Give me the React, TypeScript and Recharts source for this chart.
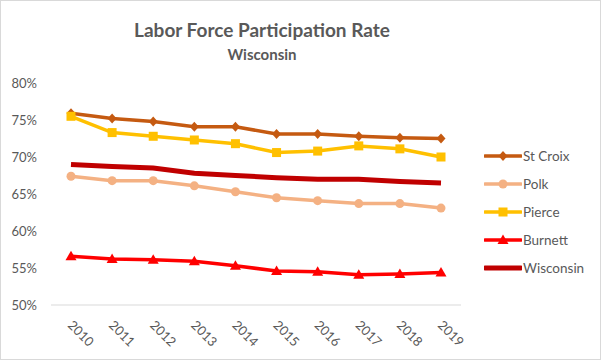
import { LineChart, Line, XAxis, YAxis } from "recharts";

const years = ["2010", "2011", "2012", "2013", "2014", "2015", "2016", "2017", "2018", "2019"];
const stCroix = [75.9, 75.2, 74.8, 74.1, 74.1, 73.1, 73.1, 72.8, 72.6, 72.5];
const polk = [67.4, 66.8, 66.8, 66.1, 65.3, 64.5, 64.1, 63.7, 63.7, 63.1];
const pierce = [75.5, 73.3, 72.8, 72.3, 71.8, 70.6, 70.8, 71.5, 71.1, 70.0];
const burnett = [56.6, 56.2, 56.1, 55.9, 55.3, 54.6, 54.5, 54.1, 54.2, 54.4];
const wisconsin = [69.0, 68.7, 68.5, 67.8, 67.5, 67.2, 67.0, 67.0, 66.7, 66.5];
const yTicks = [50, 55, 60, 65, 70, 75, 80];

const data = years.map((year, i) => ({
  year,
  stCroix: stCroix[i],
  polk: polk[i],
  pierce: pierce[i],
  burnett: burnett[i],
  wisconsin: wisconsin[i],
}));

type Marker = "diamond" | "circle" | "square" | "triangle" | "none";

const series: { key: string; name: string; color: string; width: number; marker: Marker }[] = [
  { key: "stCroix", name: "St Croix", color: "#C55A11", width: 3.5, marker: "diamond" },
  { key: "polk", name: "Polk", color: "#F4B183", width: 3.5, marker: "circle" },
  { key: "pierce", name: "Pierce", color: "#FFC000", width: 3.5, marker: "square" },
  { key: "burnett", name: "Burnett", color: "#FF0000", width: 3.5, marker: "triangle" },
  { key: "wisconsin", name: "Wisconsin", color: "#C00000", width: 5, marker: "none" },
];

const FONT = "Lato, 'Open Sans', sans-serif";
const GREY = "#595959";

const markerShape = (marker: Marker, cx: number, cy: number, color: string) => {
  switch (marker) {
    case "diamond":
      return <path d={`M${cx},${cy - 5}L${cx + 4.5},${cy}L${cx},${cy + 5}L${cx - 4.5},${cy}Z`} fill={color} />;
    case "circle":
      return <circle cx={cx} cy={cy} r={4.5} fill={color} />;
    case "square":
      return <rect x={cx - 4.5} y={cy - 4.5} width={9} height={9} fill={color} />;
    case "triangle":
      return <path d={`M${cx},${cy - 5.5}L${cx + 5.5},${cy + 4}L${cx - 5.5},${cy + 4}Z`} fill={color} />;
    default:
      return null;
  }
};

const makeDot = (marker: Marker, color: string) => (props: any) => {
  const { cx, cy, index } = props;
  if (marker === "none" || cx == null || cy == null) return <g key={index} />;
  return <g key={index}>{markerShape(marker, cx, cy, color)}</g>;
};

const YearTick = (props: any) => {
  const { x, y, payload } = props;
  return (
    <text
      x={x - 4}
      y={y + 13}
      transform={`rotate(45, ${x - 4}, ${y + 13})`}
      textAnchor="start"
      fill={GREY}
      fontSize={13}
      fontFamily={FONT}
    >
      {payload.value}
    </text>
  );
};

export default function App() {
  return (
    <div
      style={{
        position: "absolute",
        left: 0,
        top: 0,
        width: 599,
        height: 358,
        border: "1px solid #D9D9D9",
        background: "#fff",
        fontFamily: FONT,
      }}
    >
      <div
        style={{
          position: "absolute",
          top: 17,
          left: 0,
          width: 522,
          textAlign: "center",
          fontSize: 19,
          fontWeight: 700,
          color: GREY,
        }}
      >
        Labor Force Participation Rate
      </div>
      <div
        style={{
          position: "absolute",
          top: 44,
          left: 0,
          width: 522,
          textAlign: "center",
          fontSize: 15,
          fontWeight: 700,
          color: GREY,
        }}
      >
        Wisconsin
      </div>
      <div style={{ position: "absolute", left: -1, top: -1 }}>
        <LineChart width={601} height={360} data={data} margin={{ top: 83, right: 140, bottom: 5, left: 0 }}>
          <XAxis
            dataKey="year"
            axisLine={{ stroke: "#D9D9D9" }}
            tickLine={false}
            height={50}
            interval={0}
            padding={{ left: 20, right: 20 }}
            tick={<YearTick />}
          />
          <YAxis
            domain={[50, 80]}
            ticks={yTicks}
            width={51}
            axisLine={false}
            tickLine={false}
            tickMargin={8}
            tickFormatter={(v: number) => `${v}%`}
            tick={{ fill: GREY, fontSize: 13, fontFamily: FONT }}
          />
          {series.map((s) => (
            <Line
              key={s.key}
              dataKey={s.key}
              name={s.name}
              type="linear"
              stroke={s.color}
              strokeWidth={s.width}
              dot={makeDot(s.marker, s.color)}
              activeDot={false}
              isAnimationActive={false}
            />
          ))}
        </LineChart>
      </div>
      <div style={{ position: "absolute", left: 483, top: 141 }}>
        {series.map((s) => (
          <div key={s.key} style={{ display: "flex", alignItems: "center", height: 28 }}>
            <svg width={38} height={14}>
              <line x1={1} y1={7} x2={37} y2={7} stroke={s.color} strokeWidth={s.width} strokeLinecap="round" />
              {markerShape(s.marker, 19, 7, s.color)}
            </svg>
            <span style={{ fontSize: 13.5, color: GREY, marginLeft: 1 }}>{s.name}</span>
          </div>
        ))}
      </div>
    </div>
  );
}
